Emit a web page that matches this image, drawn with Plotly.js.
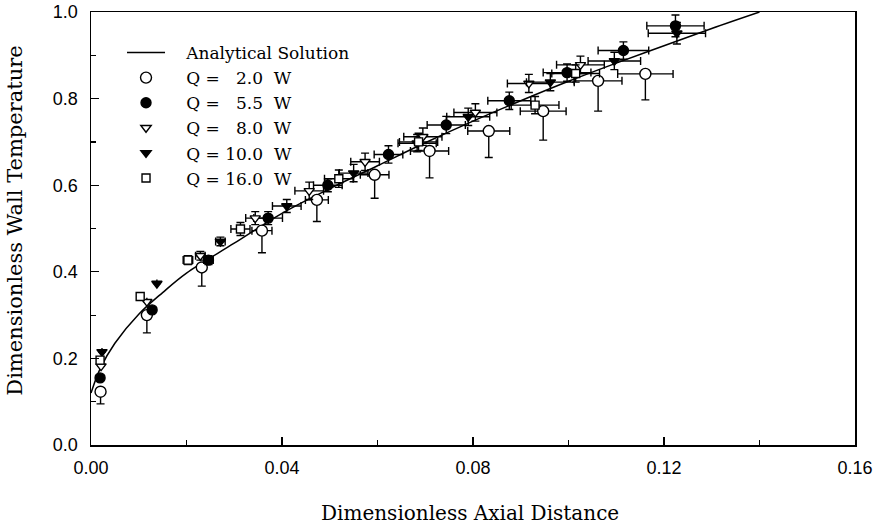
<!DOCTYPE html>
<html><head><meta charset="utf-8">
<script src="https://cdn.plot.ly/plotly-3.0.1.min.js"></script>
<style>html,body{margin:0;padding:0;background:#fff}</style>
</head><body><div id="chart" style="width:875px;height:527px"></div>
<script>
// Analytical solution
const curveX = [0, 0.002, 0.005, 0.01, 0.015, 0.02, 0.03, 0.04, 0.05, 0.06, 0.07, 0.08, 0.09, 0.10, 0.11, 0.12, 0.13, 0.14];
const curveY = [0.12, 0.178, 0.235, 0.302, 0.352, 0.397, 0.466, 0.535, 0.592, 0.645, 0.698, 0.748, 0.795, 0.840, 0.882, 0.922, 0.962, 1.0];

// Q = 2.0 W (open circles)
const q2X = [0.0020, 0.0117, 0.0232, 0.0358, 0.0473, 0.0594, 0.0709, 0.0833, 0.0947, 0.1062, 0.1161];
const q2Y = [0.123, 0.300, 0.410, 0.495, 0.566, 0.624, 0.679, 0.725, 0.771, 0.841, 0.857];
const q2Ex = [0, 0, 0, 0.0021, 0.0024, 0.0030, 0.0040, 0.0044, 0.0048, 0.0050, 0.0058];
const q2EyPlus = [0, 0, 0, 0, 0, 0, 0, 0, 0, 0, 0];
const q2EyMinus = [0.028, 0.041, 0.043, 0.051, 0.050, 0.054, 0.062, 0.061, 0.067, 0.070, 0.060];

// Q = 5.5 W (filled circles)
const q55X = [0.0019, 0.0128, 0.0246, 0.0371, 0.0496, 0.0623, 0.0744, 0.0876, 0.0997, 0.1115, 0.1224];
const q55Y = [0.155, 0.312, 0.427, 0.524, 0.600, 0.671, 0.739, 0.795, 0.860, 0.911, 0.968];
const q55Ex = [0, 0, 0.0010, 0.0030, 0.0030, 0.0030, 0.0040, 0.0045, 0.0050, 0.0053, 0.0060];
const q55Ey = [0, 0, 0.010, 0.015, 0.015, 0.020, 0.020, 0.020, 0.020, 0.020, 0.025];

// Q = 8.0 W (open down-triangles)
const q8X = [0.0021, 0.0117, 0.0229, 0.0344, 0.0457, 0.0574, 0.0695, 0.0805, 0.0917, 0.1025];
const q8Y = [0.182, 0.331, 0.437, 0.524, 0.587, 0.654, 0.712, 0.768, 0.835, 0.878];
const q8Ex = [0, 0, 0.0010, 0.0020, 0.0030, 0.0030, 0.0040, 0.0045, 0.0045, 0.0050];
const q8Ey = [0, 0, 0.010, 0.015, 0.020, 0.020, 0.020, 0.020, 0.021, 0.020];

// Q = 10.0 W (filled down-triangles)
const q10X = [0.0023, 0.0138, 0.0271, 0.0410, 0.0550, 0.0683, 0.0790, 0.0962, 0.1096, 0.1227];
const q10Y = [0.215, 0.373, 0.470, 0.552, 0.628, 0.697, 0.758, 0.838, 0.887, 0.951];
const q10Ex = [0, 0, 0.0010, 0.0030, 0.0030, 0.0040, 0.0045, 0.0050, 0.0055, 0.0060];
const q10Ey = [0, 0, 0.010, 0.015, 0.020, 0.020, 0.020, 0.020, 0.020, 0.025];

// Q = 16.0 W (open squares)
const q16X = [0.0019, 0.0103, 0.0203, 0.0313, 0.0519, 0.0686, 0.0930, 0.1015];
const q16Y = [0.196, 0.343, 0.427, 0.499, 0.615, 0.700, 0.785, 0.858];
const q16Ex = [0, 0, 0.0010, 0.0020, 0.0030, 0.0040, 0.0050, 0.0050];
const q16Ey = [0, 0, 0.010, 0.015, 0.020, 0.020, 0.020, 0.020];

const NB = '\u00A0';
const legendNames = [
  NB+NB+NB+'Analytical Solution',
  NB+NB+NB+'Q'+NB+'='+NB+NB+NB+'2.0'+NB+NB+'W',
  NB+NB+NB+'Q'+NB+'='+NB+NB+NB+'5.5'+NB+NB+'W',
  NB+NB+NB+'Q'+NB+'='+NB+NB+NB+'8.0'+NB+NB+'W',
  NB+NB+NB+'Q'+NB+'='+NB+'10.0'+NB+NB+'W',
  NB+NB+NB+'Q'+NB+'='+NB+'16.0'+NB+NB+'W'
];

const BLK = '#000';
function errs(ex, eyPlus, eyMinus) {
  const ey = eyMinus ? {type:'data', symmetric:false, array:eyPlus, arrayminus:eyMinus, color:BLK, thickness:1.4, width:4}
                     : {type:'data', array:eyPlus, color:BLK, thickness:1.4, width:4};
  return {
    error_x: {type:'data', array:ex, color:BLK, thickness:1.4, width:4},
    error_y: ey
  };
}
function pts(name, x, y, symbol, fill, size, e) {
  return Object.assign({
    type:'scatter', mode:'markers', name:name, x:x, y:y,
    marker:{symbol:symbol, size:size, color:fill, line:{color:BLK, width:1.4}}
  }, e);
}

const traces = [
  {type:'scatter', mode:'lines', name:legendNames[0], x:curveX, y:curveY,
   line:{color:BLK, width:1.5, shape:'spline'}},
  pts(legendNames[1], q2X, q2Y, 'circle', '#fff', 11, errs(q2Ex, q2EyPlus, q2EyMinus)),
  pts(legendNames[2], q55X, q55Y, 'circle', BLK, 10, errs(q55Ex, q55Ey)),
  pts(legendNames[3], q8X, q8Y, 'triangle-down', '#fff', 9, errs(q8Ex, q8Ey)),
  pts(legendNames[4], q10X, q10Y, 'triangle-down', BLK, 9, errs(q10Ex, q10Ey)),
  pts(legendNames[5], q16X, q16Y, 'square', '#fff', 8, errs(q16Ex, q16Ey))
];

const axisCommon = {
  showgrid:false, zeroline:false, showline:true, mirror:true,
  linecolor:BLK, linewidth:1.5, ticks:'inside', ticklen:8, tickwidth:1.3, tickcolor:BLK,
  tickfont:{family:'Liberation Sans, Arial, sans-serif', size:18, color:BLK}
};

const layout = {
  width:875, height:527,
  margin:{l:91, r:20, t:12, b:82},
  paper_bgcolor:'#fff', plot_bgcolor:'#fff',
  showlegend:true,
  legend:{x:0.0406, y:0.947, xanchor:'left', yanchor:'top', bgcolor:'rgba(0,0,0,0)',
          font:{family:'DejaVu Serif', size:17, color:BLK}, itemwidth:38, tracegroupgap:0},
  xaxis:Object.assign({}, axisCommon, {range:[0,0.16], dtick:0.04, tick0:0, tickformat:'.2f',
          ticklabelstandoff:6,
          minor:{dtick:0.02, ticks:'inside', ticklen:5, tickwidth:1.2, tickcolor:BLK}}),
  yaxis:Object.assign({}, axisCommon, {range:[0,1], dtick:0.2, tick0:0, tickformat:'.1f',
          ticklabelstandoff:8,
          minor:{dtick:0.1, ticks:'inside', ticklen:5, tickwidth:1.2, tickcolor:BLK}}),
  annotations:[
    {text:'Dimensionless Axial Distance', xref:'paper', yref:'paper', x:0.496, y:-0.157,
     xanchor:'center', yanchor:'middle', showarrow:false,
     font:{family:'DejaVu Serif', size:20, color:BLK}},
    {text:'Dimensionless Wall Temperature', xref:'paper', yref:'paper', x:-0.0995, y:0.518,
     xanchor:'center', yanchor:'middle', textangle:-90, showarrow:false,
     font:{family:'DejaVu Serif', size:21, color:BLK}}
  ]
};

Plotly.newPlot('chart', traces, layout, {staticPlot:true, displayModeBar:false});
</script></body></html>
